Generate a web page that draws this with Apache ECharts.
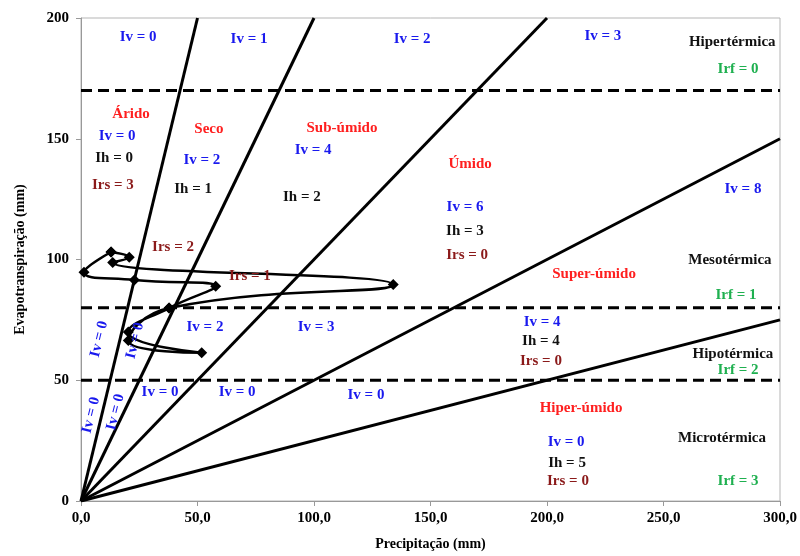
<!DOCTYPE html>
<html><head><meta charset="utf-8">
<script src="https://cdn.jsdelivr.net/npm/echarts@6/dist/echarts.min.js"></script>
<style>html,body{margin:0;padding:0;background:#fff}#c{width:800px;height:556px}</style>
</head><body><div id="c"></div>
<script>
// Monthly points (precipitation mm, evapotranspiration mm), loop closed back to the first month
const precip = [12.9, 20.7, 13.6, 134.0, 37.8, 20.3, 51.8, 20.3, 37.8, 57.8, 22.9, 1.3, 12.9];
const evapo  = [103.1, 100.9, 98.8, 89.6, 79.9, 66.5, 61.4, 70.0, 79.9, 88.9, 91.5, 94.7, 103.1];
// Boundary lines from origin: end points
const boundaryEndX = [50, 100, 200, 300, 300];
const boundaryEndY = [200, 200, 200, 150, 75];
// Horizontal thermal bands
const thermalLevels = [170, 80, 50];
const xTicks = [0, 50, 100, 150, 200, 250, 300];
const yTicks = [0, 50, 100, 150, 200];

const BLUE = '#1a1aee', RED = '#ff1f1f', DRED = '#8b1a1a', GREEN = '#1fb050', BLK = '#111';
// annotation texts: [text, x, y, color, rotate]
const notes = [
  ['Iv = 0', 24.5, 192.2, BLUE], ['Iv = 1', 72.1, 191.3, BLUE], ['Iv = 2', 142.1, 191.3, BLUE], ['Iv = 3', 224.0, 192.6, BLUE],
  ['Hipertérmica', 279.5, 190.1, BLK], ['Irf = 0', 282, 179, GREEN],
  ['Árido', 21.5, 160, RED], ['Iv = 0', 15.5, 150.9, BLUE], ['Ih = 0', 14.2, 141.9, BLK], ['Irs = 3', 13.7, 130.7, DRED],
  ['Seco', 54.9, 153.8, RED], ['Iv = 2', 51.9, 141.0, BLUE], ['Ih = 1', 48.1, 129.1, BLK],
  ['Sub-úmido', 112, 154.6, RED], ['Iv = 4', 99.6, 145.2, BLUE], ['Ih = 2', 94.8, 125.8, BLK],
  ['Úmido', 167, 139.4, RED], ['Iv = 6', 164.8, 121.6, BLUE], ['Ih = 3', 164.8, 111.8, BLK], ['Irs = 0', 165.7, 101.9, DRED],
  ['Iv = 8', 284.1, 129.1, BLUE],
  ['Irs = 2', 39.5, 105.2, DRED], ['Irs = 1', 72.5, 93.2, DRED],
  ['Mesotérmica', 278.5, 99.8, BLK], ['Super-úmido', 220.2, 94.0, RED], ['Irf = 1', 281.1, 85.4, GREEN],
  ['Iv = 2', 53.2, 72.2, BLUE], ['Iv = 3', 100.9, 72.2, BLUE],
  ['Iv = 4', 197.9, 74.2, BLUE], ['Ih = 4', 197.4, 66.0, BLK], ['Irs = 0', 197.4, 58.1, DRED],
  ['Hipotérmica', 279.8, 61.0, BLK], ['Irf = 2', 282, 54.0, GREEN],
  ['Iv = 0', 7.8, 67.0, BLUE, 76], ['Iv = 0', 23.2, 66.4, BLUE, 76],
  ['Iv = 0', 33.9, 44.9, BLUE], ['Iv = 0', 67.0, 44.9, BLUE], ['Iv = 0', 122.3, 43.7, BLUE],
  ['Iv = 0', 4.3, 35.5, BLUE, 76], ['Iv = 0', 14.8, 36.8, BLUE, 76],
  ['Hiper-úmido', 214.6, 38.4, RED], ['Microtérmica', 275.1, 26.0, BLK],
  ['Iv = 0', 208.2, 24.3, BLUE], ['Ih = 5', 208.6, 15.7, BLK], ['Irs = 0', 209.0, 8.2, DRED], ['Irf = 3', 282, 8.2, GREEN]
];

const FONT = '"Liberation Serif", "Times New Roman", serif';
const series = [];
boundaryEndX.forEach((ex, i) => {
  series.push({ type: 'line', data: [[0, 0], [ex, boundaryEndY[i]]], symbol: 'none', silent: true,
    lineStyle: { color: '#000', width: 3 }, z: 3 });
});
thermalLevels.forEach(v => {
  series.push({ type: 'line', data: [[0, v], [300, v]], symbol: 'none', silent: true,
    lineStyle: { color: '#000', width: 3, type: [11, 6] }, z: 3 });
});
series.push({
  type: 'line', data: precip.map((p, i) => [p, evapo[i]]), smooth: 0.5,
  symbol: 'diamond', symbolSize: 11, showSymbol: true,
  itemStyle: { color: '#000' }, lineStyle: { color: '#000', width: 2.5 }, z: 5
});
series.push({
  type: 'scatter', symbolSize: 0, silent: true, z: 10, itemStyle: { opacity: 1 },
  data: notes.map(n => ({ value: [n[1], n[2]], label: { show: true, position: 'inside', formatter: n[0],
    color: n[3], opacity: 1, rotate: n[4] || 0, fontFamily: FONT, fontWeight: 'bold', fontSize: 15 } }))
});

const chart = echarts.init(document.getElementById('c'));
chart.setOption({
  animation: false,
  grid: { left: 81, right: 20, top: 18, bottom: 53, show: true, borderColor: '#b5b5b5', borderWidth: 1 },
  xAxis: {
    type: 'value', min: xTicks[0], max: xTicks[xTicks.length - 1], interval: 50,
    name: 'Precipitação (mm)', nameLocation: 'middle', nameGap: 36,
    nameTextStyle: { fontFamily: FONT, fontWeight: 'bold', fontSize: 14, color: '#000' },
    axisLine: { lineStyle: { color: '#999', width: 1 } },
    axisTick: { show: true, length: 5, lineStyle: { color: '#999' } },
    axisLabel: { fontFamily: FONT, fontWeight: 'bold', fontSize: 15, color: '#000', margin: 10,
      formatter: v => v.toFixed(1).replace('.', ',') },
    splitLine: { show: false }
  },
  yAxis: {
    type: 'value', min: yTicks[0], max: yTicks[yTicks.length - 1], interval: 50,
    name: 'Evapotranspiração (mm)', nameLocation: 'middle', nameGap: 54,
    nameTextStyle: { fontFamily: FONT, fontWeight: 'bold', fontSize: 14, color: '#000' },
    axisLine: { show: true, lineStyle: { color: '#999', width: 1 } },
    axisTick: { show: true, length: 5, lineStyle: { color: '#999' } },
    axisLabel: { fontFamily: FONT, fontWeight: 'bold', fontSize: 15, color: '#000', margin: 12 },
    splitLine: { show: false }
  },
  series: series
});
</script></body></html>
